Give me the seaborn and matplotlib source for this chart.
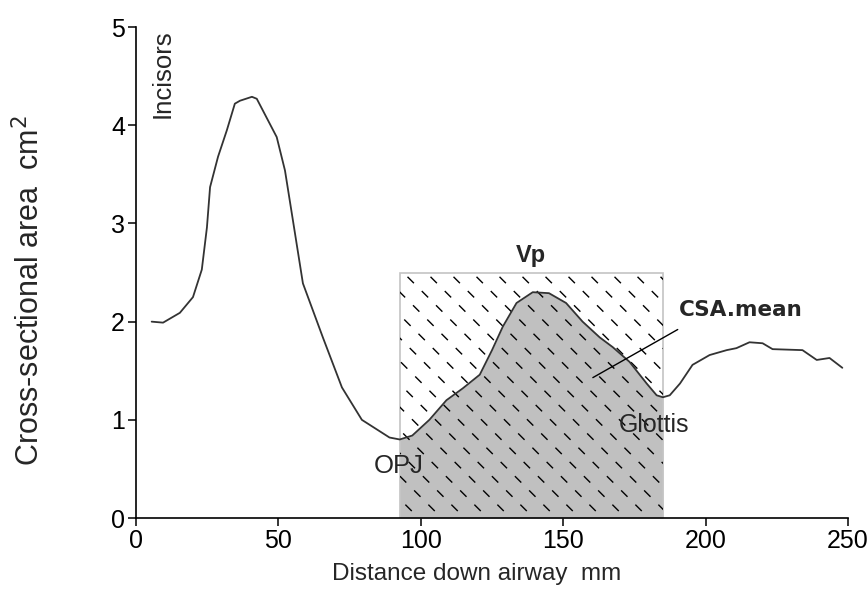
import numpy as np
import pandas as pd
import matplotlib
matplotlib.use("Agg")
import matplotlib.pyplot as plt
from matplotlib.patches import Rectangle
import seaborn as sns

# Airway cross-sectional area profile (acoustic reflectometry trace)
distance_mm = [5.5, 9.5, 15.4, 20.0, 23.1, 24.9, 26.0, 28.8, 31.9, 34.7, 36.5,
               40.7, 42.4, 49.4, 52.3, 55.1, 58.6, 65.6, 72.3, 79.3, 89.0, 92.6,
               97.0, 103.0, 109.0, 114.7, 120.7, 125.0, 128.8, 133.6, 139.3,
               145.0, 151.0, 156.8, 162.8, 167.4, 173.3, 179.3, 182.8, 185.0,
               187.4, 191.0, 195.4, 201.4, 207.4, 210.8, 215.4, 220.0, 223.5,
               234.0, 239.0, 243.5, 248.0]
area_cm2 = [2.00, 1.99, 2.09, 2.25, 2.53, 2.96, 3.37, 3.68, 3.95, 4.22, 4.25,
            4.29, 4.27, 3.88, 3.54, 3.03, 2.39, 1.84, 1.33, 1.00, 0.82, 0.80,
            0.84, 1.00, 1.20, 1.32, 1.46, 1.71, 1.95, 2.19, 2.30,
            2.29, 2.19, 2.00, 1.84, 1.74, 1.59, 1.37, 1.25, 1.23,
            1.25, 1.37, 1.56, 1.66, 1.71, 1.73, 1.79, 1.78, 1.72,
            1.71, 1.61, 1.63, 1.53]

# Pharyngeal segment (OPJ to glottis) and the Vp box height
pharynx_start, pharynx_end = 92.6, 185.0
vp_height = 2.5

x_ticks = [0, 50, 100, 150, 200, 250]
y_ticks = [0, 1, 2, 3, 4, 5]

df = pd.DataFrame({"distance": distance_mm, "area": area_cm2})

sns.set_style("white")
plt.rcParams["font.family"] = ["Liberation Sans", "DejaVu Sans"]

fig = plt.figure(figsize=(8.68, 5.89), dpi=100)
ax = fig.add_axes([0.1567, 0.1205, 0.8203, 0.8335])
ax.set_xlim(0, 250)
ax.set_ylim(0, 5)

# Shaded area under the curve across the pharynx
seg = df[(df.distance >= pharynx_start) & (df.distance <= pharynx_end)]
ax.fill_between(seg.distance, 0, seg.area, color="#c0c0c0", lw=0, zorder=1)

# Vp box
box = Rectangle((pharynx_start, 0), pharynx_end - pharynx_start, vp_height,
                fill=False, edgecolor="#c4c4c4", lw=1.2, zorder=2)
ax.add_patch(box)

# Dashed diagonal hatching inside the Vp box (45 degrees on screen)
fig.canvas.draw()
to_px = ax.transData
to_data = ax.transData.inverted()
(x0p, y0p) = to_px.transform((pharynx_start, 0))
(x1p, y1p) = to_px.transform((pharynx_end, vp_height))
spacing = 23.0
height_px = y1p - y0p
start = x0p - 4
k = 0
while start + k * spacing < x1p + height_px + spacing:
    xs = start + k * spacing
    p_top = (xs - height_px - 10, y1p + 10)
    p_bot = (xs + 10, y0p - 10)
    d = to_data.transform([p_top, p_bot])
    ln, = ax.plot(d[:, 0], d[:, 1], color="black", lw=1.0,
                  linestyle=(0, (6.5, 8)), zorder=3)
    ln.set_clip_path(box)
    k += 1

# The area trace
sns.lineplot(data=df, x="distance", y="area", ax=ax, color="#333333",
             lw=1.3, zorder=4, estimator=None, sort=False)

# Pointer from CSA.mean label into the shaded region
ax.plot([190.2, 160.4], [1.92, 1.43], color="black", lw=1.0, zorder=5)

# Annotations
ax.text(9.5, 4.98, "Incisors", rotation=90, ha="center", va="top", fontsize=18.5)
ax.text(138.5, 2.61, "Vp", ha="center", va="baseline", fontsize=17,
        fontweight="bold")
ax.text(190.5, 2.12, "CSA.mean", ha="left", va="center", fontsize=15.5,
        fontweight="bold", family="DejaVu Sans")
ax.text(169.5, 0.95, "Glottis", ha="left", va="center", fontsize=18)
ax.text(83.5, 0.53, "OPJ", ha="left", va="center", fontsize=18.5)

# Axes styling
sns.despine(ax=ax)
for side in ("left", "bottom"):
    ax.spines[side].set_color("black")
    ax.spines[side].set_linewidth(1.2)
ax.set_xticks(x_ticks)
ax.set_yticks(y_ticks)
ax.tick_params(axis="both", direction="out", length=6, width=1.1,
               labelsize=18, colors="black", left=True, bottom=True, pad=2)
ax.set_xlabel("Distance down airway  mm", fontsize=17.5)
ax.set_ylabel("Cross-sectional area  cm$^2$", fontsize=22, va="center")
ax.xaxis.set_label_coords(0.479, -0.091)
ax.yaxis.set_label_coords(-0.149, 0.464)

fig.savefig("out.png", dpi=100)
